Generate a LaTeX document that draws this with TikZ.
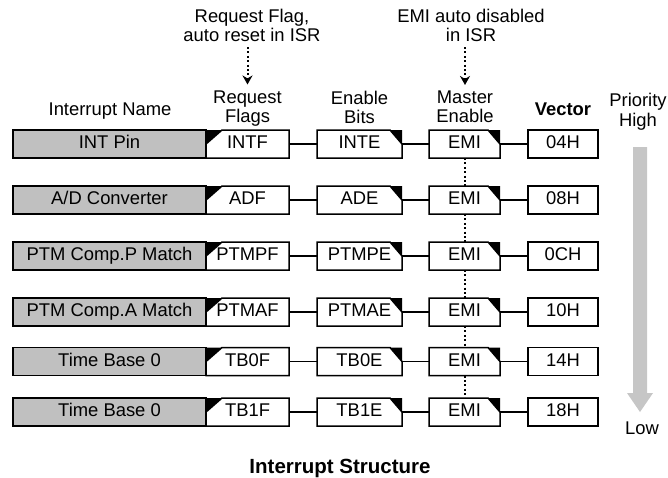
\documentclass[tikz,border=0pt]{standalone}
\usepackage{fontspec}
\setmainfont{Liberation Sans}
\usetikzlibrary{arrows.meta}
\definecolor{boxgray}{HTML}{C0C0C0}
\definecolor{arrowgray}{HTML}{C6C6C6}
\begin{document}
\setlength{\lineskiplimit}{-30pt}
\begin{tikzpicture}[x=1pt,y=-1pt,
  every node/.style={font=\fontsize{18.4}{19}\selectfont, inner sep=0pt, outer sep=0pt},
  cell/.style={minimum height=28pt, text height=13.2pt, text depth=4pt, anchor=center},
  namebox/.style={cell, draw, line width=1.5pt, fill=boxgray, minimum width=193pt},
  flagbox/.style={cell, minimum width=83pt},
  enbox/.style={cell, minimum width=85pt},
  emibox/.style={cell, minimum width=71pt},
  vecbox/.style={cell, draw, line width=1.5pt, minimum width=70pt},
  outline/.style={draw, line width=1.5pt, line join=miter},
  link/.style={line width=1.2pt},
  dotline/.style={line width=2pt, dash pattern=on 2pt off 2.4pt},
  dotarrow/.style={dotline, -{Stealth[length=9pt,width=10pt]}},
  hdr/.style={align=center, anchor=north},
  single/.style={anchor=base},
]
\useasboundingbox (0,0) rectangle (668,477);

% annotations
\node[hdr] (a1) at (252,9.5) {Request Flag,\\auto reset in ISR};
\node[hdr] (a2) at (471,9.5) {EMI auto disabled\\in ISR};

% headers
\node[single] (hn) at (110,115) {Interrupt Name};
\node[hdr] (hf) at (247.5,90.5) {Request\\Flags};
\node[hdr] (he) at (359.5,91) {Enable\\Bits};
\node[hdr] (hm) at (465,91) {Master\\Enable};
\node[single, font=\fontsize{18.4}{19}\selectfont\bfseries] (hv) at (563,115) {Vector};
\node[hdr, font=\fontsize{18.4}{20}\selectfont] (hp) at (638,93) {Priority\\High};

\draw[dotarrow] ([yshift=-5pt]a1.south -| hf) -- ([yshift=6pt]hf.north);
\draw[dotarrow] ([yshift=-5pt]a2.south -| hm) -- ([yshift=6pt]hm.north);

% rows
\foreach \i/\y/\nm/\fl/\en/\vc in {
  1/144/{INT Pin}/INTF/INTE/04H,
  2/200/{A/D Converter}/ADF/ADE/08H,
  3/256/{PTM Comp.P Match}/PTMPF/PTMPE/0CH,
  4/312/{PTM Comp.A Match}/PTMAF/PTMAE/10H,
  5/361.5/{Time Base 0}/TB0F/TB0E/14H,
  6/412/{Time Base 0}/TB1F/TB1E/18H}{
  \node[namebox] (n\i) at (109.5,\y) {\nm};
  \node[flagbox] (f\i) at (247.5,\y) {\fl};
  \node[enbox] (e\i) at (359.5,\y) {\en};
  \node[emibox] (m\i) at (464.5,\y) {EMI};
  \node[vecbox] (v\i) at (563,\y) {\vc};
  % flag box with chamfered top-left corner
  \draw[outline] (f\i.south west) -- ([yshift=-14pt]f\i.north west)
     -- ([xshift=16pt]f\i.north west) -- (f\i.north east) -- (f\i.south east) -- cycle;
  \fill (f\i.north west) -- ([xshift=16pt]f\i.north west) -- ([yshift=-14pt]f\i.north west) -- cycle;
  % enable box with chamfered top-right corner
  \draw[outline] (e\i.south west) -- (e\i.north west) -- ([xshift=-12pt]e\i.north east)
     -- ([yshift=-14pt]e\i.north east) -- (e\i.south east) -- cycle;
  \fill ([xshift=-12pt]e\i.north east) -- (e\i.north east) -- ([yshift=-14pt]e\i.north east) -- cycle;
  % master enable box
  \draw[outline] (m\i.south west) -- (m\i.north west) -- ([xshift=-12pt]m\i.north east)
     -- ([yshift=-14pt]m\i.north east) -- (m\i.south east) -- cycle;
  \fill ([xshift=-12pt]m\i.north east) -- (m\i.north east) -- ([yshift=-14pt]m\i.north east) -- cycle;
  % connectors
  \draw[link] (f\i.east) -- (e\i.west);
  \draw[link] (e\i.east) -- (m\i.west);
  \draw[link] (m\i.east) -- (v\i.west);
}
\foreach \i/\j in {1/2,2/3,3/4,4/5,5/6}{
  \draw[dotline] (m\i.south) -- (m\j.north);
}

% priority arrow
\fill[arrowgray] (633,147) -- (647,147) -- (647,393) -- (653,393) -- (640,412)
   -- (627,393) -- (633,393) -- cycle;
\node[single] (low) at (642,434) {Low};

% title
\node[single, font=\fontsize{20.5}{22}\selectfont\bfseries] (title) at (340,473) {Interrupt Structure};
\end{tikzpicture}
\end{document}
